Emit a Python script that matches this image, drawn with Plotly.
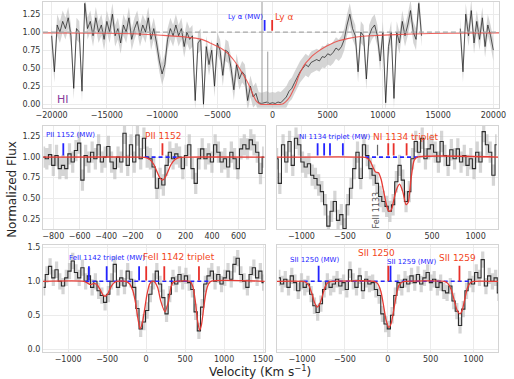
import numpy as np
import plotly.graph_objects as go

# ---------------- DATA ----------------
# Top panel: HI Ly-alpha (velocity grid start/step, flux values)
hi_v0 = -20000
hi_dv = 250
hi_flux = [0.95, 0.45, 1.10, 1.00, 1.15, 1.05, 1.20, 0.95, 0.22, 1.05,
           1.00, 0.18, 1.40, 1.05, 1.15, 0.95, 1.20, 1.00, 1.10, 0.90,
           1.15, 1.00, 1.25, 0.95, 1.05, 0.85, 1.10, 1.00, 1.20, 0.90,
           1.05, 1.15, 0.95, 1.10, 1.00, 1.20, 0.90, 1.05, 0.85, 0.60,
           0.42, 0.55, 0.90, 1.05, 0.95, 1.10, 0.95, 1.05, 0.80, 1.00,
           0.90, 0.95, 0.05, 0.85, 0.90, 0.00, 0.80, 0.55, 0.75, 0.25,
           0.85, 0.75, 0.40, 0.75, 0.72, 0.50, 0.20, 0.55, 0.35, 0.45,
           0.40, 0.05, 0.25, 0.10, 0.15, 0.02, 0.01, 0.02, 0.03, 0.01,
           0.02, 0.01, 0.03, 0.02, 0.06, 0.10, 0.18, 0.22, 0.30, 0.38,
           0.45, 0.50, 0.55, 0.52, 0.58, 0.60, 0.62, 0.60, 0.66, 0.65,
           0.70, 0.68, 0.72, 0.78, 0.75, 0.80, 0.90, 1.10, 1.25, 1.05,
           0.95, 0.45, 1.00, 0.95, 0.35, 0.95, 1.05, 1.10, 0.95, 0.60,
           1.00, 0.02, 0.80, 1.00, 0.08, 1.00, 0.85, 1.15, 0.95, 1.10,
           1.30, 1.00, 0.90, 1.40, 0.95]
hi_v0_b = 17000
hi_flux_b = [1.05, 0.45, 1.25, 0.95, 1.30, 0.85, 1.15, 0.90, 1.20, 0.80,
             1.10, 0.95, 0.75]
hi_err = 0.15
hi_fit_v = [-20790, -15000, -12000, -9900, -8000, -6400, -5500, -4700, -4000,
            -3500, -3000, -2500, -2300, -2000, -1700, -1500, -1300, -1100,
            800, 1000, 1300, 1600, 1800, 2100, 2400, 2700, 3000, 3300, 3600,
            4100, 4600, 5200, 6000, 6800, 8000, 9600, 12600, 16000, 20530]
hi_fit_f = [0.99, 0.985, 0.975, 0.955, 0.935, 0.90, 0.84, 0.78, 0.70,
            0.61, 0.50, 0.37, 0.32, 0.22, 0.11, 0.05, 0.02, 0.0,
            0.0, 0.01, 0.05, 0.11, 0.17, 0.27, 0.40, 0.50, 0.57, 0.62, 0.67,
            0.73, 0.78, 0.83, 0.88, 0.91, 0.94, 0.955, 0.975, 0.985, 0.99]
geo_v = [-950, -430]
geo_f = [1.42, 0.73]
lya_mw_ticks = [-713]
lya_ticks = [-30]

# Middle left: PII 1152
pii_v0 = -873
pii_dv = 24.46
pii_flux = [1.00, 0.98, 1.03, 0.90, 1.02, 0.86, 0.90, 0.86, 1.04, 0.94,
            1.08, 1.17, 0.72, 1.02, 0.94, 1.06, 0.98, 1.15, 0.94, 1.00,
            1.13, 0.94, 0.86, 1.00, 0.94, 1.29, 0.90, 1.15, 0.94, 1.27,
            0.98, 1.23, 1.00, 0.98, 0.88, 0.62, 0.74, 0.66, 0.90, 1.06,
            0.98, 1.04, 1.00, 0.86, 1.02, 1.15, 0.86, 0.68, 0.98, 1.10,
            0.98, 1.04, 0.94, 1.15, 1.06, 0.94, 0.98, 0.88, 1.06, 0.98,
            0.86, 1.10, 1.15, 1.10, 1.21, 1.15, 1.06, 0.80, 1.00]
pii_err = 0.13
pii_fit_v = [-878, -150, -100, -70, -40, -15, 5, 25, 45, 65, 90, 120, 150, 200, 798]
pii_fit_f = [1.0, 1.0, 0.995, 0.97, 0.91, 0.82, 0.75, 0.72, 0.75, 0.82, 0.91, 0.97, 0.995, 1.0, 1.0]
pii_mw_ticks = [-724]
pii_ticks = [25]
pii_dash = [-110, 150]

# Middle right: NI 1134 triplet
ni_v0 = -1285
ni_dv = 37.16
ni_flux = [0.98, 0.68, 1.15, 0.94, 1.19, 0.90, 1.23, 1.15, 0.94, 0.88,
           0.92, 0.78, 0.74, 0.66, 0.58, 0.42, 0.16, 0.34, 0.46, 0.23,
           0.30, 0.13, 0.42, 0.62, 0.86, 1.06, 0.74, 1.15, 1.02, 0.86,
           0.78, 0.68, 0.52, 0.46, 0.40, 0.34, 0.42, 0.70, 0.90, 0.72,
           0.46, 0.58, 0.98, 1.19, 1.06, 1.23, 0.98, 1.10, 1.15, 1.06,
           0.94, 1.19, 1.02, 0.90, 1.09, 0.98, 1.10, 0.94, 1.02, 0.90,
           0.98, 0.86, 1.06, 0.94, 1.31, 1.15, 1.06, 0.78, 1.15]
ni_err = 0.13
ni_fit_v = [-1285, -290, -250, -210, -180, -150, -115, -85, -59, -30, -3, 20, 40,
            65, 90, 127, 164, 201, 227, 257, 294, 331, 1260]
ni_fit_f = [1.0, 1.0, 0.99, 0.95, 0.88, 0.82, 0.81, 0.73, 0.60, 0.45, 0.35, 0.34, 0.38,
            0.50, 0.60, 0.67, 0.58, 0.42, 0.45, 0.72, 0.96, 1.0, 1.0]
ni_mw_ticks = [-814, -739, -672, -524]
ni_ticks = [-3, 59, 208]
feii1133_tick = [-126]
ni_dash = [-270, 340]

# Bottom left: FeII 1142 triplet
fe_v0 = -1315
fe_dv = 41.5
fe_flux = [0.91, 1.10, 1.22, 1.05, 1.17, 1.00, 0.93, 1.05, 1.15, 1.30,
           1.13, 1.05, 1.20, 1.00, 1.08, 0.91, 1.00, 0.86, 0.79, 0.69,
           0.81, 1.00, 1.25, 0.91, 1.05, 0.93, 1.15, 1.03, 0.91, 0.60,
           0.30, 0.40, 0.57, 0.81, 1.00, 1.15, 0.96, 0.76, 0.52, 0.81,
           1.05, 0.96, 1.10, 1.00, 1.08, 0.98, 0.88, 0.55, 0.27, 0.62,
           0.96, 1.08, 1.15, 1.00, 1.10, 0.96, 1.05, 1.15, 1.03, 1.25,
           1.34, 1.10, 1.00, 0.91, 1.10, 1.20, 1.05, 1.15, 0.98]
fe_err = 0.12
fe_fit_v = [-1324, -800, -760, -713, -670, -630, -590, -555, -526, -495, -460, -420,
            -380, -260, -210, -170, -135, -105, -78, -50, -20, 10, 45, 76, 110, 150,
            190, 242, 285, 320, 350, 380, 560, 600, 630, 660, 686, 710, 740, 770,
            800, 830, 1522]
fe_fit_f = [1.0, 1.0, 0.98, 0.95, 0.97, 0.95, 0.88, 0.80, 0.78, 0.81, 0.90, 0.97,
            1.0, 1.0, 0.96, 0.86, 0.68, 0.45, 0.30, 0.38, 0.58, 0.80, 0.96, 1.0, 0.99, 0.90,
            0.70, 0.55, 0.70, 0.92, 0.99, 1.0, 1.0, 0.92, 0.72, 0.42, 0.28, 0.36, 0.62, 0.85,
            0.96, 1.0, 1.0]
fe_mw_ticks = [-734, -506, -90]
fe_ticks = [1, 233, 678]
fe_dash = [-780, 840]

# Bottom right: SII 1250 / 1259
sii_v0 = -1270
sii_dv = 37.73
sii_flux = [1.05, 0.96, 1.03, 0.91, 1.08, 0.98, 0.86, 1.00, 0.91, 0.96,
            0.81, 0.64, 0.54, 0.67, 0.88, 1.00, 0.91, 0.96, 1.03, 0.93,
            0.98, 0.88, 1.17, 1.00, 0.91, 1.08, 0.86, 1.03, 0.96, 0.98,
            0.88, 0.79, 0.52, 0.37, 0.30, 0.50, 0.79, 0.98, 0.91, 1.03,
            0.96, 1.08, 0.98, 1.10, 0.96, 1.05, 1.13, 0.98, 1.03, 0.91,
            0.98, 0.86, 0.83, 0.93, 0.71, 0.56, 0.35, 0.59, 0.86, 1.03,
            0.96, 1.13, 1.05, 1.32, 0.93, 1.08, 1.00, 1.05, 0.83]
sii_err = 0.12
sii_fit_v = [-1296, -1000, -960, -920, -885, -855, -824, -795, -765, -730, -690, -650,
             -160, -120, -80, -50, -20, 13, 40, 70, 100, 130, 170, 210,
             660, 700, 740, 775, 810, 843, 870, 900, 930, 965, 1000, 1288]
sii_fit_f = [1.0, 1.0, 0.99, 0.94, 0.82, 0.69, 0.62, 0.66, 0.77, 0.92, 0.99, 1.0,
             1.0, 0.97, 0.85, 0.65, 0.43, 0.32, 0.38, 0.58, 0.80, 0.94, 0.99, 1.0,
             1.0, 0.97, 0.88, 0.72, 0.57, 0.52, 0.58, 0.75, 0.91, 0.98, 1.0, 1.0]
sii_mw_ticks = [-806, 32]
sii_ticks = [6, 836]
sii_dash = [-980, 980]

# ---------------- STYLE ----------------
FONT = "DejaVu Sans"
BLUE = "#2424ff"
RED = "#e8302a"
RED_TXT = "#f2461c"
FIT = "#e63b35"
ERRC = "rgba(185,185,185,0.6)"
DATAC = "#2b2b2b"

fig = go.Figure()


def grid(v0, dv, n):
    return v0 + dv * np.arange(n)


def add_spectrum(xa, ya, v, f, err, shape="hvh", width=1.1, color=DATAC):
    lo = [a - err for a in f]
    hi = [a + err for a in f]
    fig.add_trace(go.Scatter(x=v, y=lo, mode="lines", line=dict(width=0, shape=shape),
                             xaxis=xa, yaxis=ya, hoverinfo="skip"))
    fig.add_trace(go.Scatter(x=v, y=hi, mode="lines", line=dict(width=0, shape=shape),
                             fill="tonexty", fillcolor=ERRC, xaxis=xa, yaxis=ya, hoverinfo="skip"))
    fig.add_trace(go.Scatter(x=v, y=f, mode="lines", line=dict(width=width, shape=shape, color=color),
                             xaxis=xa, yaxis=ya))


def add_fit(xa, ya, v, f, width=1.3, color=FIT):
    fig.add_trace(go.Scatter(x=v, y=f, mode="lines",
                             line=dict(width=width, color=color, shape="spline", smoothing=0.6),
                             xaxis=xa, yaxis=ya))


def add_ticks(xa, ya, ticks, color, y0, y1, width=1.8):
    xs, ys = [], []
    for t in ticks:
        xs += [t, t, None]
        ys += [y0, y1, None]
    fig.add_trace(go.Scatter(x=xs, y=ys, mode="lines", line=dict(width=width, color=color),
                             xaxis=xa, yaxis=ya))


def add_dash(xa, ya, rng):
    fig.add_trace(go.Scatter(x=rng, y=[1.0, 1.0], mode="lines",
                             line=dict(width=1.6, color=BLUE, dash="4px,3px"),
                             xaxis=xa, yaxis=ya))


def label(xa, ya, x, y, text, color, size, angle=0):
    fig.add_annotation(x=x, y=y, xref=xa, yref=ya, text=text, showarrow=False,
                       font=dict(family=FONT, size=size, color=color),
                       xanchor="center", yanchor="middle", textangle=angle)


# ---- top panel ----
v_a = grid(hi_v0, hi_dv, len(hi_flux))
v_b = grid(hi_v0_b, hi_dv, len(hi_flux_b))
add_spectrum("x", "y", v_a, hi_flux, hi_err, shape="linear", width=0.8, color="rgba(15,15,15,0.85)")
add_spectrum("x", "y", v_b, hi_flux_b, hi_err, shape="linear", width=0.8, color="rgba(15,15,15,0.85)")
gx, gy = [], []
for gv, gf in zip(geo_v, geo_f):
    gx += [gv, gv, None]
    gy += [0.0, gf, None]
fig.add_trace(go.Scatter(x=gx, y=gy, mode="lines", line=dict(width=1, color="#9a9a9a"), xaxis="x", yaxis="y"))
add_fit("x", "y", hi_fit_v, hi_fit_f, width=1.1, color="rgba(235,70,65,0.85)")
add_ticks("x", "y", lya_mw_ticks, BLUE, 1.02, 1.17)
add_ticks("x", "y", lya_ticks, RED, 1.02, 1.17)
label("x", "y", -2471, 1.21, "Ly α (MW)", BLUE, 7)
label("x", "y", 1000, 1.21, "Ly α", RED_TXT, 9)
label("x", "y", -18990, 0.07, "HI", "#8a3d9c", 11)

# ---- PII ----
add_spectrum("x2", "y2", grid(pii_v0, pii_dv, len(pii_flux)), pii_flux, pii_err)
add_dash("x2", "y2", pii_dash)
add_fit("x2", "y2", pii_fit_v, pii_fit_f)
add_ticks("x2", "y2", pii_mw_ticks, BLUE, 1.02, 1.17)
add_ticks("x2", "y2", pii_ticks, RED, 1.02, 1.17)
label("x2", "y2", -672, 1.267, "PII 1152 (MW)", BLUE, 7)
label("x2", "y2", 35, 1.255, "PII 1152", RED_TXT, 9)

# ---- NI ----
add_spectrum("x3", "y3", grid(ni_v0, ni_dv, len(ni_flux)), ni_flux, ni_err)
add_dash("x3", "y3", ni_dash)
add_fit("x3", "y3", ni_fit_v, ni_fit_f)
add_ticks("x3", "y3", ni_mw_ticks, BLUE, 1.02, 1.17)
add_ticks("x3", "y3", ni_ticks, RED, 1.02, 1.17)
add_ticks("x3", "y3", feii1133_tick, "#666666", 1.02, 1.15, width=1.2)
label("x3", "y3", -624, 1.25, "NI 1134 triplet (MW)", BLUE, 7)
label("x3", "y3", 190, 1.25, "NI 1134 triplet", RED_TXT, 9)
label("x3", "y3", -134, 0.36, "FeII 1133", "#555555", 8, angle=-90)

# ---- FeII ----
add_spectrum("x4", "y4", grid(fe_v0, fe_dv, len(fe_flux)), fe_flux, fe_err)
add_dash("x4", "y4", fe_dash)
add_fit("x4", "y4", fe_fit_v, fe_fit_f)
add_ticks("x4", "y4", fe_mw_ticks, BLUE, 1.01, 1.22)
add_ticks("x4", "y4", fe_ticks, RED, 1.01, 1.22)
label("x4", "y4", -497, 1.35, "FeII 1142 triplet (MW)", BLUE, 7)
label("x4", "y4", 416, 1.36, "FeII 1142 triplet", RED_TXT, 9)

# ---- SII ----
add_spectrum("x5", "y5", grid(sii_v0, sii_dv, len(sii_flux)), sii_flux, sii_err)
add_dash("x5", "y5", sii_dash)
add_fit("x5", "y5", sii_fit_v, sii_fit_f)
add_ticks("x5", "y5", sii_mw_ticks, BLUE, 1.0, 1.23)
add_ticks("x5", "y5", sii_ticks, RED, 1.0, 1.23)
label("x5", "y5", -847, 1.31, "SII 1250 (MW)", BLUE, 7)
label("x5", "y5", 277, 1.29, "SII 1259 (MW)", BLUE, 7)
label("x5", "y5", -130, 1.41, "SII 1250", RED_TXT, 9)
label("x5", "y5", 813, 1.34, "SII 1259", RED_TXT, 9)

# dashed continuum in top panel
fig.add_shape(type="line", xref="x domain", yref="y", x0=0, x1=1, y0=1, y1=1,
              line=dict(color="#a8a8a8", width=1.2, dash="5px,3px"))

# axis titles
fig.add_annotation(x=5 / 514, y=1 - 189 / 379, xref="paper", yref="paper", text="Normalized Flux",
                   showarrow=False, textangle=-90, font=dict(family=FONT, size=12, color="#262626"),
                   xanchor="center", yanchor="middle")
fig.add_annotation(x=261 / 514, y=1 - 373 / 379, xref="paper", yref="paper",
                   text="Velocity (Km s<sup>−1</sup>)", showarrow=False,
                   font=dict(family=FONT, size=12, color="#262626"), xanchor="center", yanchor="middle")


def fmt(v, nd=0):
    s = f"{abs(v):.{nd}f}"
    return ("−" + s) if v < 0 else s


W, H = 514, 379


def xd(a, b):
    return [a / W, b / W]


def yd(top, bot):
    return [1 - bot / H, 1 - top / H]


def axis(domain, rng, tv, tt, anchor, show=True):
    return dict(domain=domain, range=rng, tickvals=tv, ticktext=tt, anchor=anchor,
                showgrid=True, gridcolor="#ebebeb", gridwidth=1, showline=True,
                linecolor="#d4d4d4", linewidth=1, mirror=True, zeroline=False, ticks="",
                showticklabels=show, tickfont=dict(family=FONT, size=8, color="#333333"),
                fixedrange=True)


top_xt = [-20000, -15000, -10000, -5000, 0, 5000, 10000, 15000, 20000]
top_yt = [0, 0.25, 0.5, 0.75, 1.0, 1.25]
mid_yt = [0.25, 0.5, 0.75, 1.0, 1.25]
pii_xt = [-800, -600, -400, -200, 0, 200, 400, 600]
ni_xt = [-1000, -500, 0, 500, 1000]
fe_xt = [-1000, -500, 0, 500, 1000, 1500]
sii_xt = [-1000, -500, 0, 500, 1000]
bot_yt = [0.0, 0.5, 1.0, 1.5]

fig.update_layout(
    width=W, height=H, autosize=False, showlegend=False,
    margin=dict(l=0, r=0, t=0, b=0),
    paper_bgcolor="white", plot_bgcolor="white",
    xaxis=axis(xd(37, 507), [-20790, 20530], top_xt, [fmt(v) for v in top_xt], "y"),
    yaxis=axis(yd(0, 107), [-0.051, 1.419], top_yt, [fmt(v, 2) for v in top_yt], "x"),
    xaxis2=axis(xd(37, 265.5), [-878, 798], pii_xt, [fmt(v) for v in pii_xt], "y2"),
    yaxis2=axis(yd(125, 229.3), [0.126, 1.383], mid_yt, [fmt(v, 2) for v in mid_yt], "x2"),
    xaxis3=axis(xd(277.7, 506), [-1285, 1260], ni_xt, [fmt(v) for v in ni_xt], "y3"),
    yaxis3=axis(yd(125, 229.3), [0.126, 1.383], mid_yt, [fmt(v, 2) for v in mid_yt], "x3", show=False),
    xaxis4=axis(xd(37, 265.5), [-1324, 1522], fe_xt, [fmt(v) for v in fe_xt], "y4"),
    yaxis4=axis(yd(245.5, 353.3), [-0.035, 1.536], bot_yt, [fmt(v, 1) for v in bot_yt], "x4"),
    xaxis5=axis(xd(277.7, 506), [-1296, 1288], sii_xt, [fmt(v) for v in sii_xt], "y5"),
    yaxis5=axis(yd(245.5, 353.3), [-0.035, 1.536], bot_yt, [fmt(v, 1) for v in bot_yt], "x5", show=False),
)

fig.write_html("out.html", config={"displayModeBar": False},
               post_script="document.body.style.margin='0';document.body.style.padding='0';")
